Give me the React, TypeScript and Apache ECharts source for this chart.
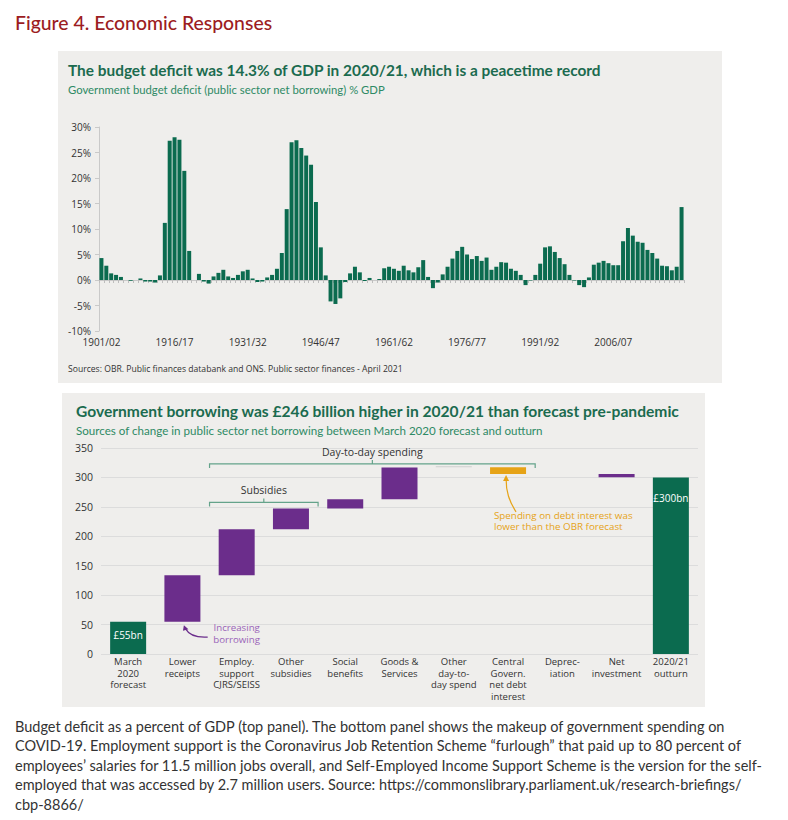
import React, { useEffect, useRef } from 'react';
import * as echarts from 'echarts';

// ---------- Top panel data ----------
const years: string[] = [];
for (let y = 1901; y <= 2020; y++) years.push(`${y}/${String((y + 1) % 100).padStart(2, '0')}`);

const deficitPct: number[] = [
  4.3, 2.8, 1.3, 1.0, 0.6, 0.0, -0.15, 0.0, 0.3, -0.3,
  -0.3, -0.5, 0.9, 11.2, 27.3, 28.0, 27.5, 21.4, 5.7, 0.0,
  1.2, -0.3, -0.7, 0.7, 1.4, 2.0, 0.7, 0.4, 1.0, 1.7,
  2.0, 0.3, -0.4, -0.3, 0.5, 1.0, 2.2, 5.3, 13.9, 27.0,
  27.4, 25.9, 24.4, 22.6, 15.3, 6.4, 0.9, -4.2, -4.7, -3.6,
  -0.4, 1.3, 2.6, 1.5, -0.2, 0.4, 0.0, 0.2, 2.3, 2.6,
  2.2, 1.8, 2.8, 1.9, 1.5, 2.5, 3.9, 0.6, -1.6, -0.5,
  1.1, 2.6, 4.2, 5.7, 6.5, 5.0, 4.1, 4.7, 3.75, 4.4,
  2.0, 2.6, 3.5, 3.4, 2.2, 1.8, 1.0, -1.0, -0.1, 1.0,
  3.2, 6.4, 6.6, 5.5, 4.3, 3.1, 1.0, -0.1, -1.0, -1.4,
  0.5, 3.0, 3.4, 3.75, 3.3, 2.9, 2.9, 7.6, 10.2, 8.7,
  7.5, 7.3, 5.9, 5.3, 4.2, 2.8, 2.7, 1.9, 2.6, 14.3,
];

// ---------- Bottom panel data ----------
const wfCategories: string[] = [
  'March\n2020\nforecast',
  'Lower\nreceipts',
  'Employ.\nsupport\nCJRS/SEISS',
  'Other\nsubsidies',
  'Social\nbenefits',
  'Goods &\nServices',
  'Other\nday-to-\nday spend',
  'Central\nGovern.\nnet debt\ninterest',
  'Deprec-\niation',
  'Net\ninvestment',
  '2020/21\noutturn',
];
const wfLow: number[] = [0, 55, 134, 212, 247, 263, 317.5, 306, 306, 300.5, 0];
const wfHigh: number[] = [55, 134, 212, 247, 263, 317, 319, 317.5, 306, 306, 300];
const wfKind: string[] = ['total', 'up', 'up', 'up', 'up', 'up', 'other', 'down', 'up', 'up', 'total'];
const wfTotalLabels: Record<number, string> = { 0: '£55bn', 10: '£300bn' };

const captionLines: string[] = [
  'Budget deficit as a percent of GDP (top panel). The bottom panel shows the makeup of government spending on',
  'COVID-19. Employment support is the Coronavirus Job Retention Scheme \u201cfurlough\u201d that paid up to 80 percent of',
  'employees\u2019 salaries for 11.5 million jobs overall, and Self-Employed Income Support Scheme is the version for the self-',
  'employed that was accessed by 2.7 million users. Source: https://commonslibrary.parliament.uk/research-briefings/',
  'cbp-8866/',
];

const GREEN = '#0b6b4f';
const PURPLE = '#6b2d8b';
const ORANGE = '#e6a317';
const GREY_BAR = '#cfcfcf';
const PANEL = '#efeeec';
const TITLE_GREEN = '#1b6b4f';
const SUB_GREEN = '#2e8a65';
const BRACKET = '#64a38a';
const FONT = 'Open Sans';

const kindColor: Record<string, string> = { total: GREEN, up: PURPLE, down: ORANGE, other: GREY_BAR };

function txt(x: number, y: number, text: string, o: any = {}) {
  return {
    type: 'text',
    x,
    y,
    silent: true,
    z: o.z ?? 10,
    style: {
      text,
      fill: o.fill ?? '#333',
      fontSize: o.fontSize ?? 10,
      fontFamily: o.fontFamily ?? FONT,
      fontWeight: o.fontWeight ?? 'normal',
      lineHeight: o.lineHeight,
      textAlign: o.align ?? 'left',
      align: o.align ?? 'left',
      textVerticalAlign: 'middle',
      verticalAlign: 'middle',
    },
  };
}

export default function App() {
  const ref = useRef<HTMLDivElement>(null);

  useEffect(() => {
    const chart = echarts.init(ref.current!, null, { renderer: 'svg' });

    const option: any = {
      animation: false,
      backgroundColor: '#ffffff',
      textStyle: { fontFamily: FONT },
      grid: [
        { left: 99, top: 127, width: 585, height: 204 },
        { left: 101, top: 448, width: 597, height: 206 },
      ],
      xAxis: [
        {
          type: 'category',
          gridIndex: 0,
          data: years,
          position: 'bottom',
          axisLine: { show: false, onZero: false },
          axisTick: { show: false },
          axisLabel: { interval: 14, color: '#333', fontSize: 10, margin: 6 },
          splitLine: { show: false },
        },
        {
          type: 'category',
          gridIndex: 0,
          data: years,
          position: 'top',
          axisLine: { show: true, onZero: true, lineStyle: { color: '#c9c9c9', width: 1 } },
          axisTick: { show: true, inside: true, interval: 0, length: 3, lineStyle: { color: '#bdbdbd' } },
          axisLabel: { show: false },
          splitLine: { show: false },
        },
        {
          type: 'category',
          gridIndex: 1,
          data: wfCategories,
          axisLine: { show: false },
          axisTick: { show: false },
          axisLabel: { interval: 0, color: '#333', fontSize: 9.5, lineHeight: 11.5, margin: 2 },
        },
      ],
      yAxis: [
        {
          type: 'value',
          gridIndex: 0,
          min: -10,
          max: 30,
          interval: 5,
          axisLine: { show: true, lineStyle: { color: '#c9c9c9' } },
          axisTick: { show: true, length: 4, lineStyle: { color: '#c9c9c9' } },
          axisLabel: { formatter: '{value}%', color: '#333', fontSize: 10, margin: 8 },
          splitLine: { show: false },
        },
        {
          type: 'value',
          gridIndex: 1,
          min: 0,
          max: 350,
          interval: 50,
          axisLine: { show: false },
          axisTick: { show: false },
          axisLabel: { color: '#333', fontSize: 10.5, margin: 8 },
          splitLine: { show: true, lineStyle: { color: '#dcdcdc', width: 1 } },
        },
      ],
      series: [
        {
          type: 'bar',
          xAxisIndex: 0,
          yAxisIndex: 0,
          data: deficitPct,
          barCategoryGap: '18%',
          itemStyle: { color: GREEN },
        },
        {
          type: 'bar',
          xAxisIndex: 2,
          yAxisIndex: 1,
          stack: 'wf',
          barWidth: 36,
          silent: true,
          itemStyle: { color: 'transparent' },
          data: wfLow,
        },
        {
          type: 'bar',
          xAxisIndex: 2,
          yAxisIndex: 1,
          stack: 'wf',
          barWidth: 36,
          data: wfHigh.map((h, i) => {
            const item: any = {
              value: +(h - wfLow[i]).toFixed(2),
              itemStyle: { color: kindColor[wfKind[i]] },
            };
            if (wfTotalLabels[i]) {
              item.label = {
                show: true,
                position: 'insideTop',
                distance: i === 0 ? 8 : 16,
                formatter: wfTotalLabels[i],
                color: '#ffffff',
                fontSize: 10,
              };
            }
            return item;
          }),
        },
      ],
    };

    chart.setOption(option);

    const P = (i: number, v: number) => chart.convertToPixel({ seriesIndex: 2 }, [i, v]) as number[];
    const xC = (i: number) => P(i, 0)[0];
    const yV = (v: number) => P(0, v)[1];

    const bracket = (x1: number, x2: number, yLine: number, label: string, yText: number) => {
      const xc = (x1 + x2) / 2;
      return [
        {
          type: 'polyline',
          silent: true,
          z: 10,
          shape: { points: [[x1, yLine + 4], [x1, yLine], [xc, yLine], [xc, yLine - 4], [xc, yLine], [x2, yLine], [x2, yLine + 4]] },
          style: { stroke: BRACKET, lineWidth: 1.2, fill: null },
        },
        txt(xc, yText, label, { align: 'center', fontSize: 10.5, fill: '#333' }),
      ];
    };

    const dayL = (xC(1) + xC(2)) / 2;
    const dayR = (xC(7) + xC(8)) / 2;
    const subR = (xC(3) + xC(4)) / 2;

    // increasing borrowing arrow (under lower receipts bar)
    const lrx = xC(1);
    const lry = yV(wfLow[1]);
    const ibx = xC(2);
    const iby = yV(27);
    // debt-interest arrow
    const dix = xC(7);
    const diy = yV(wfLow[7]);

    const graphics: any[] = [
      // panels
      { type: 'rect', silent: true, z: -10, shape: { x: 58, y: 51, width: 664, height: 332 }, style: { fill: PANEL } },
      { type: 'rect', silent: true, z: -10, shape: { x: 62, y: 393, width: 643, height: 314 }, style: { fill: PANEL } },
      // figure title
      txt(15, 22, 'Figure 4. Economic Responses', { fill: '#9c1c22', fontSize: 19.4, fontFamily: 'Lato', fontWeight: 500 }),
      // top panel texts
      txt(68, 70, 'The budget deficit was 14.3% of GDP in 2020/21, which is a peacetime record', {
        fill: TITLE_GREEN, fontSize: 15.4, fontFamily: 'Lato', fontWeight: 'bold',
      }),
      txt(68, 89, 'Government budget deficit (public sector net borrowing) % GDP', { fill: SUB_GREEN, fontSize: 11.3, fontFamily: 'Lato' }),
      txt(68, 369, 'Sources: OBR. Public finances databank and ONS. Public sector finances - April 2021', { fill: '#333', fontSize: 8.6 }),
      // bottom panel texts
      txt(76, 411, 'Government borrowing was £246 billion higher in 2020/21 than forecast pre-pandemic', {
        fill: TITLE_GREEN, fontSize: 15.6, fontFamily: 'Lato', fontWeight: 'bold',
      }),
      txt(76, 430, 'Sources of change in public sector net borrowing between March 2020 forecast and outturn', {
        fill: SUB_GREEN, fontSize: 11.6, fontFamily: 'Lato',
      }),
      ...bracket(dayL, dayR, yV(323), 'Day-to-day spending', yV(343)),
      ...bracket(dayL, subR, yV(257.5), 'Subsidies', yV(278)),
      // increasing borrowing
      txt(ibx, iby - 4.5, 'Increasing\nborrowing', { align: 'center', fill: '#9a63b8', fontSize: 9.7, lineHeight: 11.8 }),
      {
        type: 'bezierCurve',
        silent: true,
        z: 10,
        shape: { x1: ibx - 29, y1: iby - 1, cpx1: lrx + 10, cpy1: iby, cpx2: lrx + 5, cpy2: iby - 6, x2: lrx + 3, y2: lry + 7 },
        style: { stroke: PURPLE, lineWidth: 1.2, fill: null },
      },
      {
        type: 'polygon',
        silent: true,
        z: 10,
        shape: { points: [[lrx + 1.5, lry + 3.5], [lrx + 0.5, lry + 9], [lrx + 6, lry + 7.5]] },
        style: { fill: PURPLE },
      },
      // debt interest
      txt(494, 521, 'Spending on debt interest was\nlower than the OBR forecast', { fill: ORANGE, fontSize: 9.8, lineHeight: 11.8 }),
      {
        type: 'bezierCurve',
        silent: true,
        z: 10,
        shape: { x1: dix + 8, y1: diy + 38, cpx1: dix + 1, cpy1: diy + 27, cpx2: dix - 2, cpy2: diy + 18, x2: dix - 2, y2: diy + 4 },
        style: { stroke: ORANGE, lineWidth: 1.2, fill: null },
      },
      {
        type: 'polygon',
        silent: true,
        z: 10,
        shape: { points: [[dix - 2, diy + 1], [dix - 5, diy + 7], [dix + 1, diy + 7]] },
        style: { fill: ORANGE },
      },
      // caption
      ...captionLines.map((l, i) => txt(15, 726 + i * 19.5, l, { fill: '#333', fontSize: 14.5, fontFamily: 'Lato' })),
    ];

    chart.setOption({ graphic: graphics });

    return () => chart.dispose();
  }, []);

  return (
    <div
      ref={ref}
      style={{ position: 'absolute', left: 0, top: 0, width: 788, height: 820, background: '#fff' }}
    />
  );
}
